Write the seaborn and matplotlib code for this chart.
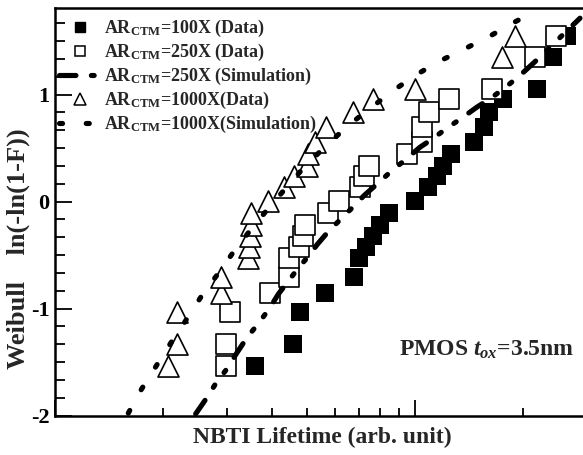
import numpy as np
import pandas as pd
import matplotlib
matplotlib.use("Agg")
import matplotlib.pyplot as plt
import seaborn as sns
from matplotlib.lines import Line2D
from matplotlib.ticker import LogLocator, MultipleLocator, FixedLocator, NullFormatter, FixedFormatter

# ---------------- data ----------------
weibull_y = [-1.536, -1.330, -1.036, -0.858, -0.708, -0.526, -0.423, -0.321, -0.218, -0.106,
             0.002, 0.133, 0.236, 0.329, 0.446, 0.553, 0.698, 0.834, 0.960, 1.049, 1.352, 1.548]

x_100x = [3.594, 4.583, 4.778, 5.641, 6.756, 6.981, 7.310, 7.644, 7.994, 8.468,
          10.0, 10.89, 11.49, 11.98, 12.57, 14.58, 15.55, 16.06, 17.51, 21.82, 24.17, 26.52]
x_250x = [2.985, 2.985, 3.063, 3.968, 4.467, 4.467, 4.762, 4.885, 4.948, 5.732,
          6.151, 7.013, 7.217, 7.474, 9.502, 10.46, 10.49, 10.97, 12.39, 16.36, 21.61, 24.64]
x_1000x = [2.054, 2.189, 2.189, 2.883, 2.883, 3.444, 3.466, 3.481, 3.503, 3.503,
           3.913, 4.313, 4.621, 5.012, 5.028, 5.275, 5.659, 6.718, 7.668, 10.0, 17.39, 18.96]

sim250_x = [2.459, 2.627, 2.801, 2.999, 3.197, 3.421, 3.681, 3.956, 4.172, 4.402, 4.740, 5.004,
            5.368, 5.743, 6.257, 6.672, 7.227, 7.795, 8.561, 9.186, 10.32, 11.24, 12.25, 13.34,
            14.84, 16.23, 17.84, 19.57, 21.54, 28.73]
sim250_y = [-1.985, -1.845, -1.697, -1.566, -1.417, -1.267, -1.136, -0.991, -0.865, -0.763, -0.622,
            -0.529, -0.395, -0.280, -0.155, -0.062, 0.058, 0.156, 0.280, 0.364, 0.508, 0.592, 0.686,
            0.770, 0.882, 0.966, 1.069, 1.180, 1.308, 1.715]

sim1000_x = [1.598, 1.741, 1.917, 2.110, 2.342, 2.582, 2.860, 3.128, 3.465, 3.849, 4.280, 4.771,
             5.388, 6.461, 7.467, 8.673, 10.11, 11.73, 13.71, 16.08, 18.76, 21.78]
sim1000_y = [-1.978, -1.751, -1.529, -1.308, -1.080, -0.857, -0.659, -0.473, -0.280, -0.093, 0.088,
             0.271, 0.452, 0.700, 0.866, 1.035, 1.189, 1.315, 1.427, 1.544, 1.673, 1.785]

ytick_values = [-2, -1, 0, 1]
ytick_labels = ["-2", "-1", "0", "1"]

legend_labels = [r"AR$_{\mathrm{CTM}}$=100X (Data)",
                 r"AR$_{\mathrm{CTM}}$=250X (Data)",
                 r"AR$_{\mathrm{CTM}}$=250X (Simulation)",
                 r"AR$_{\mathrm{CTM}}$=1000X(Data)",
                 r"AR$_{\mathrm{CTM}}$=1000X(Simulation)"]

# ---------------- style ----------------
sns.set_theme(style="ticks")
plt.rcParams["font.family"] = ["Liberation Serif", "DejaVu Serif"]
plt.rcParams["font.weight"] = "bold"
plt.rcParams["axes.unicode_minus"] = False
plt.rcParams["mathtext.fontset"] = "custom"
plt.rcParams["mathtext.rm"] = "Liberation Serif:bold"
plt.rcParams["mathtext.bf"] = "Liberation Serif:bold"
plt.rcParams["mathtext.it"] = "Liberation Serif:bold:italic"

W, H = 583, 455
fig = plt.figure(figsize=(W / 100, H / 100), dpi=100)
ax_left, ax_right, ax_top, ax_bottom = 55, 590, 8.3, 415.5
ax = fig.add_axes([ax_left / W, 1 - ax_bottom / H, (ax_right - ax_left) / W, (ax_bottom - ax_top) / H])

df100 = pd.DataFrame({"x": x_100x, "y": weibull_y})
df250 = pd.DataFrame({"x": x_250x, "y": weibull_y})
df1000 = pd.DataFrame({"x": x_1000x, "y": weibull_y})

sns.scatterplot(data=df100, x="x", y="y", ax=ax, marker="s", s=150, color="black",
                edgecolor="black", linewidth=0, zorder=2)
sns.scatterplot(data=df250, x="x", y="y", ax=ax, marker="s", s=200, facecolor="white",
                edgecolor="black", linewidth=1.2, zorder=3)
sns.scatterplot(data=df1000, x="x", y="y", ax=ax, marker="^", s=230, facecolor="white",
                edgecolor="black", linewidth=1.2, zorder=3)

lw = 3.7
ls250 = (0, (3.2, 3.0, 0.55, 3.0, 0.55, 3.0))
ls1000 = (0, (0.6, 4.6))
sns.lineplot(x=sim250_x, y=sim250_y, ax=ax, sort=False, estimator=None, color="black",
             lw=lw, linestyle=ls250, dash_capstyle="round", zorder=4)
sns.lineplot(x=sim1000_x, y=sim1000_y, ax=ax, sort=False, estimator=None, color="black",
             lw=lw, linestyle=ls1000, dash_capstyle="round", zorder=4)

ax.set_xscale("log")
xmax = 10 ** ((ax_right - ax_left) / 360.0)
ax.set_xlim(1, xmax)
ax.set_ylim(-2, 1 + (94.7 - ax_top) / 107.0)

ax.xaxis.set_major_locator(LogLocator(base=10, numticks=10))
ax.xaxis.set_minor_locator(LogLocator(base=10, subs=np.arange(2, 10), numticks=20))
ax.xaxis.set_major_formatter(NullFormatter())
ax.xaxis.set_minor_formatter(NullFormatter())
ax.yaxis.set_major_locator(FixedLocator(ytick_values))
ax.yaxis.set_major_formatter(FixedFormatter(ytick_labels))
ax.yaxis.set_minor_locator(MultipleLocator(1 / 6))

ax.tick_params(which="both", direction="in", width=1.3, colors="black")
ax.tick_params(axis="x", which="major", length=11.5)
ax.tick_params(axis="x", which="minor", length=6)
ax.tick_params(axis="y", which="major", length=12, pad=4)
ax.tick_params(axis="y", which="minor", length=7)
ax.tick_params(axis="y", labelsize=16)
for lab in ax.get_yticklabels():
    lab.set_fontweight("bold")

for sp in ax.spines.values():
    sp.set_linewidth(1.8)
    sp.set_color("black")

ax.set_xlabel("NBTI Lifetime (arb. unit)", fontsize=17, fontweight="bold", labelpad=5)
ax.set_ylabel("Weibull    ln(-ln(1-F))", fontsize=19, fontweight="bold")
ax.yaxis.set_label_coords(-0.047, 0.41)

ax.text(0.643, 0.148, r"PMOS $t_{ox}$=3.5nm", transform=ax.transAxes, fontsize=17,
        fontweight="bold", ha="left", va="baseline")

handles = [
    Line2D([], [], ls="none", marker="s", ms=7, color="black", mec="black"),
    Line2D([], [], ls="none", marker="s", ms=7.5, mfc="white", mec="black", mew=1.1),
    Line2D([], [], color="black", lw=lw, linestyle=ls250, dash_capstyle="round"),
    Line2D([], [], ls="none", marker="^", ms=8, mfc="white", mec="black", mew=1.1),
    Line2D([], [], color="black", lw=lw, linestyle=ls1000, dash_capstyle="round"),
]
ax.legend(handles, legend_labels, loc="upper left", bbox_to_anchor=(0.005, 0.981),
          frameon=False, fontsize=13, handlelength=2.3, handletextpad=0.15,
          labelspacing=0.16, borderaxespad=0, borderpad=0.1)

fig.savefig("out.png", dpi=100)
